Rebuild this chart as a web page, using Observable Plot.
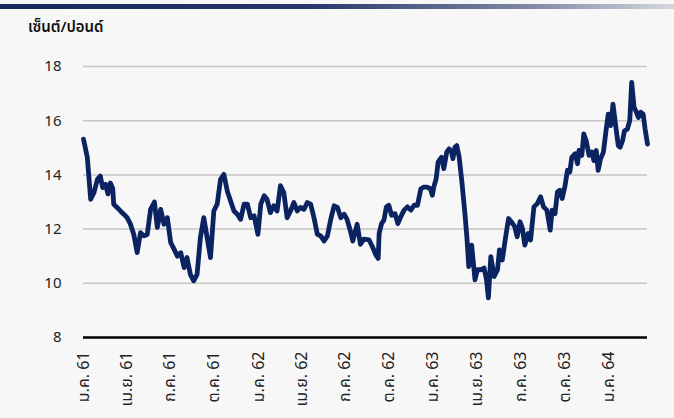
<!DOCTYPE html>
<html><head><meta charset="utf-8">
<script src="https://cdn.jsdelivr.net/npm/d3@7"></script>
<script src="https://cdn.jsdelivr.net/npm/@observablehq/plot@0.6"></script>
<style>
html,body{margin:0;padding:0;background:#f7f7f7;}
#wrap{width:674px;height:418px;position:relative;overflow:hidden;background:#f7f7f7;font-family:"Noto Sans Thai","Noto Sans",sans-serif;}
#bar{position:absolute;left:0;top:4px;width:674px;height:5px;background:linear-gradient(to right,#17285c 0%,#26366b 45%,#7d86a3 78%,#d5d8df 100%);}
#title{position:absolute;left:28px;top:18px;font-size:15px;font-weight:600;color:#111;line-height:20px;}
#chart{position:absolute;left:0;top:40px;}
</style>
</head><body>
<div id="wrap"><div id="bar"></div><div id="title">เซ็นต์/ปอนด์</div><div id="chart"></div></div>
<script>
const dates = ["2018-01-01","2018-01-09","2018-01-16","2018-01-23","2018-01-30","2018-02-05","2018-02-10","2018-02-16","2018-02-21","2018-02-26","2018-03-03","2018-03-05","2018-03-12","2018-03-19","2018-03-26","2018-04-02","2018-04-09","2018-04-16","2018-04-23","2018-04-30","2018-05-07","2018-05-14","2018-05-21","2018-05-29","2018-06-04","2018-06-11","2018-06-18","2018-06-25","2018-07-02","2018-07-09","2018-07-16","2018-07-23","2018-07-30","2018-08-05","2018-08-12","2018-08-19","2018-08-26","2018-09-02","2018-09-09","2018-09-16","2018-09-23","2018-09-30","2018-10-07","2018-10-14","2018-10-21","2018-10-28","2018-11-04","2018-11-11","2018-11-18","2018-11-25","2018-12-02","2018-12-09","2018-12-16","2018-12-23","2018-12-31","2019-01-06","2019-01-13","2019-01-19","2019-01-26","2019-02-02","2019-02-09","2019-02-16","2019-02-23","2019-03-02","2019-03-09","2019-03-16","2019-03-23","2019-03-30","2019-04-06","2019-04-13","2019-04-20","2019-04-27","2019-05-04","2019-05-11","2019-05-18","2019-05-25","2019-06-01","2019-06-08","2019-06-15","2019-06-22","2019-06-29","2019-07-05","2019-07-12","2019-07-17","2019-07-26","2019-08-02","2019-08-09","2019-08-20","2019-08-27","2019-09-03","2019-09-08","2019-09-10","2019-09-15","2019-09-20","2019-09-25","2019-09-30","2019-10-06","2019-10-13","2019-10-19","2019-10-25","2019-11-01","2019-11-08","2019-11-15","2019-11-22","2019-11-29","2019-12-06","2019-12-12","2019-12-19","2019-12-26","2019-12-30","2020-01-02","2020-01-07","2020-01-11","2020-01-18","2020-01-23","2020-01-29","2020-02-03","2020-02-08","2020-02-11","2020-02-15","2020-02-19","2020-02-24","2020-03-01","2020-03-07","2020-03-11","2020-03-15","2020-03-21","2020-03-28","2020-04-02","2020-04-09","2020-04-16","2020-04-21","2020-04-25","2020-04-30","2020-05-07","2020-05-14","2020-05-18","2020-05-24","2020-05-30","2020-06-06","2020-06-12","2020-06-19","2020-06-24","2020-06-30","2020-07-05","2020-07-10","2020-07-17","2020-07-22","2020-07-29","2020-08-05","2020-08-12","2020-08-18","2020-08-25","2020-09-01","2020-09-05","2020-09-11","2020-09-16","2020-09-21","2020-09-26","2020-10-02","2020-10-07","2020-10-12","2020-10-16","2020-10-23","2020-10-28","2020-10-31","2020-11-06","2020-11-10","2020-11-15","2020-11-21","2020-11-27","2020-12-01","2020-12-06","2020-12-10","2020-12-15","2020-12-21","2020-12-26","2020-12-31","2021-01-05","2021-01-10","2021-01-16","2021-01-21","2021-01-25","2021-01-30","2021-02-03","2021-02-09","2021-02-14","2021-02-18","2021-02-23","2021-02-28","2021-03-04","2021-03-09","2021-03-14","2021-03-18","2021-03-23"];
const prices = [15.32,14.64,13.10,13.35,13.84,13.96,13.53,13.65,13.30,13.70,13.50,12.92,12.80,12.67,12.55,12.42,12.18,11.80,11.13,11.87,11.75,11.80,12.73,13.00,12.06,12.73,12.18,12.42,11.50,11.26,11.00,11.13,10.58,10.95,10.33,10.09,10.33,11.69,12.42,11.69,10.95,12.67,12.92,13.84,14.02,13.41,13.04,12.67,12.55,12.36,12.92,12.92,12.42,12.49,11.81,12.92,13.23,13.10,12.61,12.86,12.67,13.60,13.35,12.42,12.67,12.98,12.67,12.80,12.73,12.98,12.92,12.42,11.81,11.75,11.56,11.75,12.36,12.86,12.80,12.42,12.55,12.36,11.93,11.56,12.18,11.44,11.63,11.60,11.35,11.05,10.92,11.84,12.20,12.33,12.82,12.88,12.51,12.57,12.20,12.45,12.70,12.82,12.70,12.88,12.88,13.49,13.55,13.55,13.49,13.25,13.55,13.86,14.47,14.65,14.23,14.84,14.96,14.84,14.60,15.02,15.08,14.65,13.68,12.57,11.72,10.62,11.41,10.13,10.50,10.50,10.56,10.13,9.46,10.98,10.25,10.50,11.23,10.86,11.60,12.39,12.27,12.09,11.72,12.27,12.02,11.41,11.84,11.60,12.82,12.94,13.19,12.82,12.70,11.96,12.70,12.57,13.37,13.43,13.13,13.61,14.17,14.11,14.65,14.78,14.41,14.90,14.72,15.51,15.27,14.72,14.84,14.53,14.90,14.17,14.59,14.84,15.57,16.24,15.82,16.61,15.76,15.08,15.02,15.27,15.63,15.69,16.00,17.41,16.49,16.31,16.12,16.31,16.24,15.69,15.14];
const yTicks = [8,10,12,14,16,18];
const tickDates = ["2018-01-01","2018-04-01","2018-07-01","2018-10-01","2019-01-01","2019-04-01","2019-07-01","2019-10-01","2020-01-01","2020-04-01","2020-07-01","2020-10-01","2021-01-01"];
const tickLabels = ["ม.ค. 61","เม.ย. 61","ก.ค. 61","ต.ค. 61","ม.ค. 62","เม.ย. 62","ก.ค. 62","ต.ค. 62","ม.ค. 63","เม.ย. 63","ก.ค. 63","ต.ค. 63","ม.ค. 64"];

const data = dates.map((d, i) => ({date: new Date(d), price: prices[i]}));
const tickD = tickDates.map(d => new Date(d));
const labelMap = new Map(tickD.map((d, i) => [d.getTime(), tickLabels[i]]));
const font = '"Noto Sans Thai","Noto Sans",sans-serif';

const chart = Plot.plot({
  width: 674, height: 378,
  marginTop: 26, marginBottom: 81, marginLeft: 83, marginRight: 27,
  style: {background: "transparent", fontFamily: font, color: "#222"},
  x: {type: "utc", domain: [new Date("2018-01-01"), new Date("2021-03-23")]},
  y: {domain: [8, 18]},
  marks: [
    Plot.gridY(yTicks.filter(v => v > 8), {stroke: "#c6c6c6", strokeOpacity: 1, strokeWidth: 1.5}),
    Plot.ruleY([8], {stroke: "#000", strokeWidth: 2.5}),
    Plot.axisY(yTicks, {tickSize: 0, tickPadding: 22, fontSize: 15, label: null}),
    Plot.axisX(tickD, {tickSize: 0, tickRotate: -90, tickPadding: 14, fontSize: 16, label: null,
      tickFormat: d => labelMap.get(d.getTime())}),
    Plot.lineY(data, {x: "date", y: "price", stroke: "#0b2461", strokeWidth: 4.8, strokeLinejoin: "round", strokeLinecap: "round"})
  ]
});
document.getElementById("chart").appendChild(chart);
</script>
</body></html>
